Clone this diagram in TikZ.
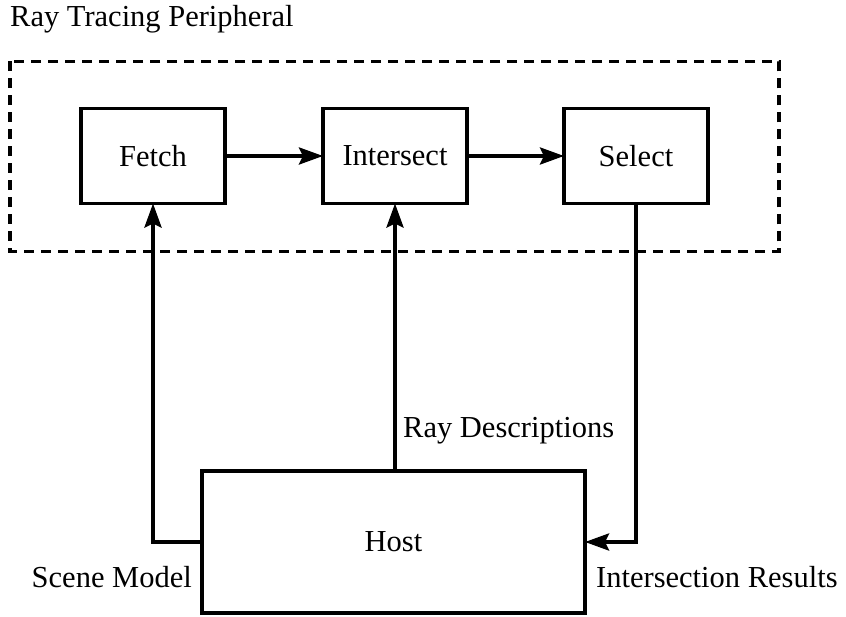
\documentclass[tikz,border=0pt]{standalone}
\usepackage{fontspec}
\setmainfont{Liberation Serif}
\usetikzlibrary{arrows.meta}
\begin{document}
\begin{tikzpicture}[x=1pt,y=-1pt,
  lbl/.style={font=\fontsize{30.5}{36}\selectfont, inner sep=0pt},
  stage/.style={draw, line width=3.6pt, minimum width=144pt, minimum height=95pt,
    inner sep=0pt, outer sep=0pt, font=\fontsize{30.5}{36}\selectfont},
  hostbox/.style={draw, line width=3.6pt, minimum width=383pt, minimum height=142pt,
    inner sep=0pt, outer sep=0pt, font=\fontsize{30.5}{36}\selectfont},
  arr/.style={line width=3.6pt, -{Stealth[length=24pt,width=17pt,inset=4pt]}},
  frame/.style={line width=3.6pt, dash pattern=on 10pt off 7pt}
]
\useasboundingbox (0,0) rectangle (846,617);

% peripheral title and dashed enclosure
\node[lbl, anchor=base west] (title) at (10,27) {Ray Tracing Peripheral};
\draw[frame] (10,61.5) rectangle (779,251.5);

% pipeline stages
\node[stage] (fetch) at (153,156) {Fetch};
\node[stage] (inter) at (395,156) {Intersect};
\node[stage] (sel) at (636,156) {Select};

% host
\node[hostbox] (host) at (393.5,542) {Host};

% pipeline flow
\draw[arr] (fetch) -- (inter);
\draw[arr] (inter) -- (sel);

% host connections
\draw[arr] (host.west) -| (fetch.south);
\draw[arr] (inter.south |- host.north) -- (inter.south);
\draw[arr] (sel.south) |- (host.east);

% connector labels
\node[lbl, anchor=base east] (scene) at (192,587) {Scene Model};
\node[lbl, anchor=base west] (rays) at (403,437) {Ray Descriptions};
\node[lbl, anchor=base west] (results) at (596,587) {Intersection Results};
\end{tikzpicture}
\end{document}
